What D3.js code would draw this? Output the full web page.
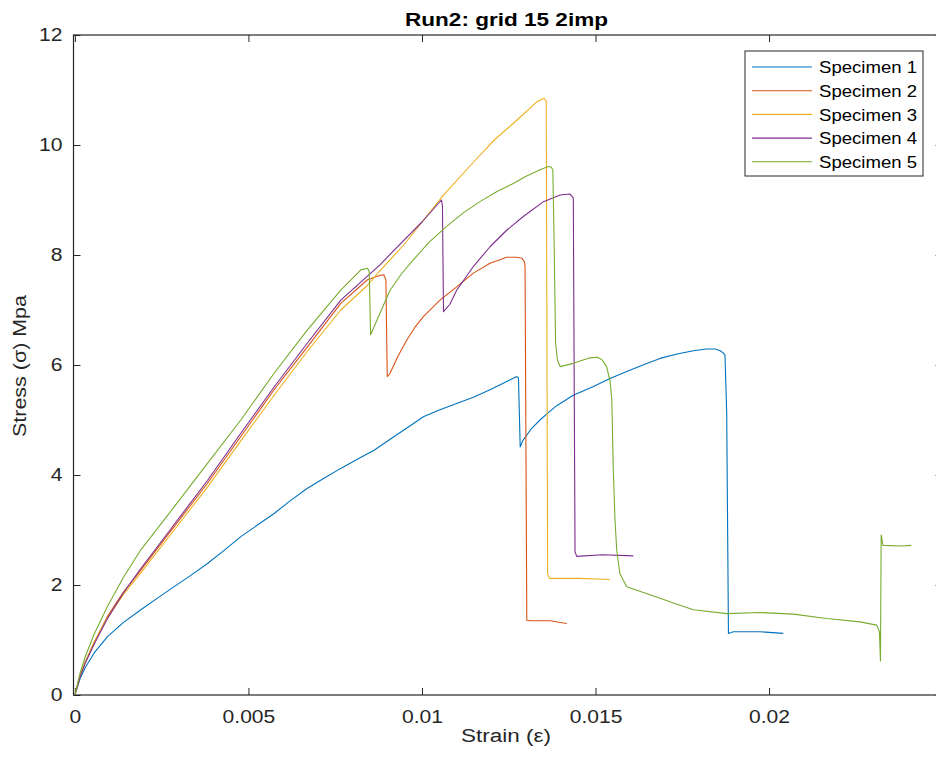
<!DOCTYPE html>
<html>
<head>
<meta charset="utf-8">
<script src="https://cdn.jsdelivr.net/npm/d3@7"></script>
<style>
  html, body { margin: 0; padding: 0; background: #fff; }
  svg { display: block; font-family: "Liberation Sans", Arial, Helvetica, sans-serif; }
</style>
</head>
<body>
<svg id="chart" width="936" height="763"></svg>
<script>
// Stress–strain curves, [strain, stress (MPa)] pairs
const specimen1 = [[0,0],[0.00015,0.3],[0.0003,0.5],[0.00055,0.76],[0.00094,1.06],[0.0014,1.32],[0.0019,1.55],[0.0024,1.77],[0.00286,1.97],[0.00335,2.18],[0.00382,2.39],[0.0043,2.63],[0.00478,2.88],[0.00526,3.09],[0.00574,3.30],[0.0062,3.53],[0.0067,3.76],[0.0072,3.95],[0.00766,4.12],[0.00815,4.29],[0.00862,4.45],[0.0092,4.70],[0.00965,4.89],[0.01004,5.06],[0.0105,5.18],[0.0110,5.30],[0.0115,5.42],[0.01196,5.55],[0.0125,5.72],[0.01273,5.79],[0.01278,5.76],[0.01283,4.51],[0.0129,4.62],[0.01315,4.84],[0.0134,5.0],[0.01365,5.14],[0.01388,5.26],[0.01436,5.45],[0.01494,5.61],[0.0154,5.75],[0.0159,5.88],[0.0164,6.01],[0.01686,6.12],[0.01735,6.2],[0.01782,6.26],[0.0182,6.29],[0.01845,6.29],[0.01859,6.26],[0.01868,6.22],[0.01873,6.18],[0.01878,5.12],[0.01883,1.12],[0.01897,1.15],[0.01974,1.15],[0.02041,1.12]];
const specimen2 = [[0,0],[0.00015,0.35],[0.0003,0.6],[0.00055,0.95],[0.00093,1.42],[0.0014,1.87],[0.0019,2.27],[0.00286,3.06],[0.00382,3.85],[0.00478,4.70],[0.00574,5.55],[0.0067,6.33],[0.00766,7.12],[0.00843,7.55],[0.0088,7.63],[0.0089,7.64],[0.00896,7.55],[0.009,5.79],[0.00908,5.85],[0.0093,6.15],[0.00956,6.45],[0.0098,6.69],[0.01004,6.88],[0.01052,7.18],[0.0110,7.42],[0.01148,7.67],[0.01196,7.85],[0.01244,7.96],[0.01273,7.96],[0.01288,7.94],[0.01295,7.88],[0.01297,7.79],[0.01302,1.36],[0.01311,1.35],[0.01369,1.35],[0.01417,1.30]];
const specimen3 = [[0,0],[0.00015,0.35],[0.0003,0.6],[0.00055,0.95],[0.00093,1.40],[0.0014,1.83],[0.0019,2.22],[0.00286,3.0],[0.00382,3.78],[0.00478,4.62],[0.00574,5.45],[0.0067,6.25],[0.00766,7.0],[0.00843,7.45],[0.0088,7.72],[0.0095,8.2],[0.01,8.6],[0.01062,9.09],[0.0115,9.7],[0.0121,10.1],[0.01273,10.45],[0.0133,10.78],[0.01352,10.85],[0.01358,10.8],[0.01362,2.2],[0.01367,2.12],[0.0145,2.12],[0.01542,2.10]];
const specimen4 = [[0,0],[0.00015,0.33],[0.0003,0.58],[0.00055,0.92],[0.00093,1.38],[0.0014,1.86],[0.0019,2.30],[0.00286,3.10],[0.00382,3.90],[0.00478,4.76],[0.00574,5.60],[0.0067,6.40],[0.00766,7.18],[0.00879,7.82],[0.0092,8.09],[0.01,8.6],[0.01056,9.0],[0.01059,8.9],[0.01062,6.97],[0.0108,7.1],[0.0110,7.36],[0.01148,7.79],[0.01196,8.15],[0.01244,8.45],[0.01292,8.70],[0.0135,8.97],[0.01398,9.09],[0.01426,9.11],[0.01436,9.04],[0.01441,2.6],[0.01446,2.52],[0.0152,2.55],[0.01609,2.53]];
const specimen5 = [[0,0],[0.00015,0.4],[0.0003,0.7],[0.00055,1.1],[0.00093,1.6],[0.0014,2.14],[0.0019,2.64],[0.00286,3.42],[0.00382,4.21],[0.00478,5.0],[0.00574,5.85],[0.0067,6.64],[0.00766,7.36],[0.00824,7.73],[0.00843,7.76],[0.00848,7.70],[0.00852,6.55],[0.00879,6.94],[0.00908,7.36],[0.0094,7.65],[0.00975,7.91],[0.0102,8.23],[0.01071,8.52],[0.0112,8.77],[0.01167,8.97],[0.01215,9.15],[0.01263,9.30],[0.013,9.43],[0.0134,9.55],[0.01364,9.61],[0.01372,9.6],[0.01377,9.55],[0.0138,8.5],[0.01385,6.4],[0.0139,6.1],[0.01398,5.97],[0.01436,6.03],[0.01484,6.13],[0.01505,6.14],[0.01518,6.1],[0.01532,5.97],[0.01542,5.7],[0.01547,5.36],[0.01551,4.15],[0.01556,3.2],[0.01561,2.64],[0.0157,2.21],[0.0159,1.97],[0.0164,1.86],[0.01686,1.76],[0.01735,1.65],[0.01782,1.55],[0.01878,1.48],[0.01974,1.50],[0.0207,1.47],[0.02166,1.39],[0.02262,1.33],[0.0231,1.27],[0.02318,1.15],[0.02321,0.62],[0.02323,2.91],[0.02328,2.72],[0.0238,2.71],[0.0241,2.72]];

const seriesNames = ["Specimen 1", "Specimen 2", "Specimen 3", "Specimen 4", "Specimen 5"];
const seriesColors = ["#0072BD", "#D95319", "#EDB120", "#7E2F8E", "#77AC30"];
const xTicks = [0, 0.005, 0.01, 0.015, 0.02];
const xTickLabels = ["0", "0.005", "0.01", "0.015", "0.02"];
const yTicks = [0, 2, 4, 6, 8, 10, 12];
const titleText = "Run2: grid 15 2imp";
const xLabelText = "Strain (\u03B5)";
const yLabelText = "Stress (\u03C3) Mpa";

const allSeries = [specimen1, specimen2, specimen3, specimen4, specimen5];

const svg = d3.select("#chart");
const axisColor = "#262626";
const widen = 1.17; // horizontal stretch of the glyphs

// Stretch a text element horizontally around its anchor
function stretch(sel, factor) {
  sel.each(function () {
    const w = this.getComputedTextLength();
    d3.select(this).attr("textLength", w * factor).attr("lengthAdjust", "spacingAndGlyphs");
  });
}

// Plot box
const plotLeft = 73.5, plotRight = 942.6, plotTop = 35, plotBottom = 695;
const x = d3.scaleLinear().domain([-0.00004, 0.025]).range([plotLeft, plotRight]);
const y = d3.scaleLinear().domain([0, 12]).range([plotBottom, plotTop]);

const tickLen = 7;

// Bottom axis (ticks pointing inward)
const xAxis = d3.axisBottom(x).tickValues(xTicks)
  .tickFormat((d, i) => xTickLabels[i]).tickSizeInner(-tickLen).tickSizeOuter(0).tickPadding(15);
const gx = svg.append("g").attr("transform", `translate(0,${plotBottom})`).call(xAxis);
// Top axis, ticks only
const gxt = svg.append("g").attr("transform", `translate(0,${plotTop})`)
  .call(d3.axisTop(x).tickValues(xTicks).tickFormat("").tickSizeInner(-tickLen).tickSizeOuter(0));
// Left axis
const yAxis = d3.axisLeft(y).tickValues(yTicks).tickFormat(d3.format("d"))
  .tickSizeInner(-tickLen).tickSizeOuter(0).tickPadding(11);
const gy = svg.append("g").attr("transform", `translate(${plotLeft},0)`).call(yAxis);
// Right axis, ticks only
const gyr = svg.append("g").attr("transform", `translate(${plotRight},0)`)
  .call(d3.axisRight(y).tickValues(yTicks).tickFormat("").tickSizeInner(-tickLen).tickSizeOuter(0));

[gx, gxt, gy, gyr].forEach(g => {
  g.select(".domain").remove();
  g.selectAll(".tick line").attr("stroke", axisColor).attr("stroke-width", 1);
  g.selectAll(".tick text").attr("fill", axisColor).attr("font-size", 18)
    .attr("font-family", "'Liberation Sans', Arial, sans-serif");
});
stretch(gx.selectAll(".tick text"), widen);
stretch(gy.selectAll(".tick text"), widen);

// Frame
svg.append("rect").attr("x", plotLeft).attr("y", plotTop)
  .attr("width", plotRight - plotLeft).attr("height", plotBottom - plotTop)
  .attr("fill", "none").attr("stroke", axisColor).attr("stroke-width", 1.2);

// Clip for data lines
svg.append("clipPath").attr("id", "plotClip").append("rect")
  .attr("x", plotLeft).attr("y", plotTop).attr("width", plotRight - plotLeft).attr("height", plotBottom - plotTop);

const line = d3.line().x(d => x(d[0])).y(d => y(d[1]));
svg.append("g").attr("clip-path", "url(#plotClip)")
  .selectAll("path").data(allSeries).join("path")
  .attr("d", line)
  .attr("fill", "none")
  .attr("stroke", (d, i) => seriesColors[i])
  .attr("stroke-width", 1.1)
  .attr("stroke-linejoin", "round");

// Title
svg.append("text").attr("x", 506.5).attr("y", 26)
  .attr("text-anchor", "middle").attr("font-weight", "bold")
  .attr("font-size", 18).attr("fill", "#000")
  .attr("textLength", 203).attr("lengthAdjust", "spacingAndGlyphs").text(titleText);

// Axis labels
svg.append("text").attr("x", 506).attr("y", 742)
  .attr("text-anchor", "middle").attr("font-size", 18).attr("fill", axisColor)
  .attr("textLength", 90).attr("lengthAdjust", "spacingAndGlyphs").text(xLabelText);
svg.append("text").attr("transform", "translate(25.5,366) rotate(-90)")
  .attr("text-anchor", "middle").attr("font-size", 18).attr("fill", axisColor)
  .attr("textLength", 142).attr("lengthAdjust", "spacingAndGlyphs").text(yLabelText);

// Legend
const legend = svg.append("g");
legend.append("rect").attr("x", 745).attr("y", 51).attr("width", 178).attr("height", 125)
  .attr("fill", "#fff").attr("stroke", axisColor).attr("stroke-width", 1);
seriesNames.forEach((name, i) => {
  const cy = 67 + i * 23.7;
  legend.append("line").attr("x1", 752).attr("x2", 812).attr("y1", cy).attr("y2", cy)
    .attr("stroke", seriesColors[i]).attr("stroke-width", 1.1);
  legend.append("text").attr("x", 819).attr("y", cy).attr("dy", "0.36em")
    .attr("font-size", 17).attr("fill", "#000")
    .attr("textLength", 98).attr("lengthAdjust", "spacingAndGlyphs").text(name);
});
</script>
</body>
</html>
